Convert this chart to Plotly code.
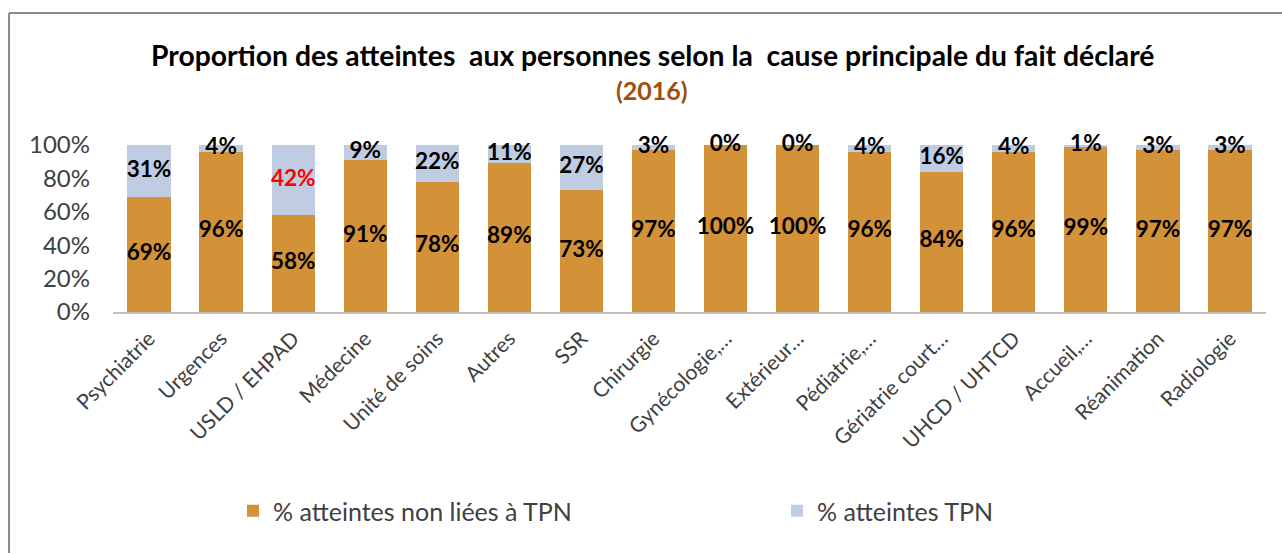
import plotly.graph_objects as go

categories = ["Psychiatrie", "Urgences", "USLD / EHPAD", "Médecine", "Unité de soins",
              "Autres", "SSR", "Chirurgie", "Gynécologie,…", "Extérieur…", "Pédiatrie,…",
              "Gériatrie court…", "UHCD / UHTCD", "Accueil,…", "Réanimation", "Radiologie"]
non_tpn = [69, 96, 58, 91, 78, 89, 73, 97, 100, 100, 96, 84, 96, 99, 97, 97]
tpn = [31, 4, 42, 9, 22, 11, 27, 3, 0, 0, 4, 16, 4, 1, 3, 3]
y_ticks = [0, 20, 40, 60, 80, 100]
highlight = "USLD / EHPAD"

FONT = "Lato"
ORANGE = "#D39238"
BLUE = "#C0CCE2"
GREY_TXT = "#404040"

W, H = 1282, 553
L, R, T, B = 113, 16, 145, 241
pw, ph = W - L - R, H - T - B

def px(x):
    return (x - L) / pw

def py(y):
    return (H - B - y) / ph

fig = go.Figure()
fig.add_trace(go.Bar(x=categories, y=non_tpn, name="% atteintes non liées à TPN",
                     marker=dict(color=ORANGE, line=dict(width=0)), legend="legend"))
fig.add_trace(go.Bar(x=categories, y=tpn, name="% atteintes TPN",
                     marker=dict(color=BLUE, line=dict(width=0)), legend="legend2"))

# data labels centred in each segment
fig.add_trace(go.Scatter(x=categories, y=[v / 2 for v in non_tpn], mode="text",
                         text=[f"{v}%" for v in non_tpn], showlegend=False, hoverinfo="skip",
                         textfont=dict(family=FONT, size=22.5, color="#000000", weight="bold"),
                         cliponaxis=False))
fig.add_trace(go.Scatter(x=categories, y=[a + b / 2 for a, b in zip(non_tpn, tpn)], mode="text",
                         text=[f"{v}%" for v in tpn], showlegend=False, hoverinfo="skip",
                         textfont=dict(family=FONT, size=22.5, weight="bold",
                                       color=["#FF0000" if c == highlight else "#000000" for c in categories]),
                         cliponaxis=False))

legend_font = dict(family=FONT, size=25, color=GREY_TXT)

fig.update_layout(
    width=W, height=H,
    margin=dict(l=L, r=R, t=T, b=B, autoexpand=False),
    barmode="stack", bargap=0.4,
    plot_bgcolor="white", paper_bgcolor="white",
    font=dict(family=FONT, color=GREY_TXT),
    showlegend=True,
    legend=dict(orientation="h", x=px(233), xanchor="left", y=py(511), yanchor="middle",
                font=legend_font, itemclick=False, bgcolor="rgba(0,0,0,0)"),
    legend2=dict(orientation="h", x=px(777), xanchor="left", y=py(511), yanchor="middle",
                 font=legend_font, itemclick=False, bgcolor="rgba(0,0,0,0)"),
    xaxis=dict(tickangle=-45, tickfont=dict(family=FONT, size=21, color=GREY_TXT),
               range=[-0.5, len(categories) - 0.5],
               showline=True, linecolor="#BFBFBF", linewidth=2, showgrid=False,
               ticks="", ticklabelstandoff=4, automargin=False),
    yaxis=dict(range=[0, 100], tickvals=y_ticks, ticktext=[f"{v}%" for v in y_ticks],
               tickfont=dict(family=FONT, size=24, color=GREY_TXT), showgrid=False,
               zeroline=False, showline=False, ticks="", ticklabelstandoff=22, automargin=False),
    annotations=[
        dict(text="<b>Proportion des atteintes  aux personnes selon la  cause principale du fait déclaré</b>",
             xref="paper", yref="paper", x=px(652), y=py(55), xanchor="center", yanchor="middle",
             showarrow=False, font=dict(family=FONT, size=28.3, color="#000000")),
        dict(text="<b>(2016)</b>", xref="paper", yref="paper", x=px(652), y=py(90),
             xanchor="center", yanchor="middle", showarrow=False,
             font=dict(family=FONT, size=25, color="#9E4F10")),
    ],
    shapes=[
        dict(type="line", xref="paper", yref="paper", x0=px(9), x1=px(1300), y0=py(13), y1=py(13),
             line=dict(color="#8C8C8C", width=2)),
        dict(type="line", xref="paper", yref="paper", x0=px(9), x1=px(9), y0=py(13), y1=py(600),
             line=dict(color="#8C8C8C", width=2)),
    ],
)

fig.write_html("out.html", config={"displayModeBar": False},
               post_script="document.body.style.margin='0';")
